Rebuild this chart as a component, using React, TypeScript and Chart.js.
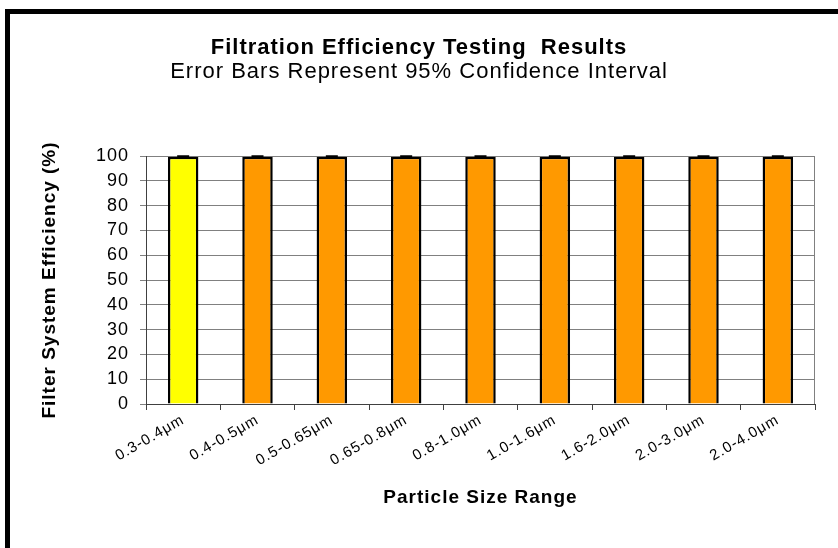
import React, { useEffect, useRef } from 'react';
import { Chart, registerables } from 'chart.js';

Chart.register(...registerables);

const categories = [
  '0.3-0.4μm',
  '0.4-0.5μm',
  '0.5-0.65μm',
  '0.65-0.8μm',
  '0.8-1.0μm',
  '1.0-1.6μm',
  '1.6-2.0μm',
  '2.0-3.0μm',
  '2.0-4.0μm',
];
const efficiency = [99.7, 99.7, 99.7, 99.7, 99.7, 99.7, 99.7, 99.7, 99.7];
const ci95 = [0.2, 0.2, 0.2, 0.2, 0.2, 0.2, 0.2, 0.2, 0.2];
const barColors = ['#FFFF00', '#FF9900', '#FF9900', '#FF9900', '#FF9900', '#FF9900', '#FF9900', '#FF9900', '#FF9900'];
const yMin = 0;
const yMax = 100;
const yStep = 10;

const titleText = 'Filtration Efficiency Testing  Results';
const subtitleText = 'Error Bars Represent 95% Confidence Interval';
const yAxisTitle = 'Filter System Efficiency (%)';
const xAxisTitle = 'Particle Size Range';

const FONT = '"Liberation Sans", Arial, Helvetica, sans-serif';

export default function App() {
  const ref = useRef<HTMLCanvasElement>(null);

  useEffect(() => {
    document.body.style.margin = '0';
    const canvas = ref.current;
    if (!canvas) return;

    const spacing = {
      id: 'spacing',
      beforeUpdate(c: any) {
        c.ctx.letterSpacing = '1px';
      },
      beforeDraw(c: any) {
        c.ctx.letterSpacing = '1px';
      },
    };

    const frame = {
      id: 'frame',
      beforeDraw(c: any) {
        const ctx = c.ctx;
        ctx.save();
        ctx.fillStyle = '#FFFFFF';
        ctx.fillRect(0, 0, c.width, c.height);
        ctx.strokeStyle = '#000000';
        ctx.lineWidth = 5;
        ctx.strokeRect(7.5, 11.5, c.width + 40, c.height + 40);
        ctx.restore();
      },
      afterDatasetsDraw(c: any) {
        const ctx = c.ctx;
        const a = c.chartArea;
        ctx.save();
        ctx.strokeStyle = '#808080';
        ctx.lineWidth = 1;
        ctx.beginPath();
        ctx.moveTo(Math.round(a.right) - 0.5, a.top);
        ctx.lineTo(Math.round(a.right) - 0.5, a.bottom);
        ctx.stroke();
        ctx.restore();
      },
    };

    const errorBars = {
      id: 'errorBars',
      afterDatasetsDraw(c: any) {
        const ctx = c.ctx;
        const meta = c.getDatasetMeta(0);
        const ys = c.scales.y;
        ctx.save();
        ctx.strokeStyle = '#000000';
        ctx.lineWidth = 2;
        meta.data.forEach((el: any, i: number) => {
          const v = efficiency[i];
          const e = ci95[i];
          const yHi = ys.getPixelForValue(Math.min(v + e, yMax + 0.5));
          const yLo = ys.getPixelForValue(v - e);
          const x = el.x;
          const half = 6;
          ctx.beginPath();
          ctx.moveTo(x, yHi);
          ctx.lineTo(x, yLo);
          ctx.moveTo(x - half, yHi);
          ctx.lineTo(x + half, yHi);
          ctx.moveTo(x - half, yLo);
          ctx.lineTo(x + half, yLo);
          ctx.stroke();
        });
        ctx.restore();
      },
    };

    const chart = new Chart(canvas, {
      type: 'bar',
      data: {
        labels: categories,
        datasets: [
          {
            data: efficiency,
            backgroundColor: barColors,
            borderColor: '#000000',
            borderWidth: 2.5,
            barPercentage: 0.41,
            categoryPercentage: 1,
          },
        ],
      },
      options: {
        responsive: false,
        animation: false,
        devicePixelRatio: 1,
        color: '#000000',
        layout: { padding: { left: 23, right: 23, top: 0, bottom: 40 } },
        plugins: {
          legend: { display: false },
          tooltip: { enabled: false },
          title: {
            display: true,
            text: titleText,
            color: '#000000',
            font: { family: FONT, size: 22, weight: 'bold', lineHeight: 1 },
            padding: { top: 37, bottom: 0 },
          },
          subtitle: {
            display: true,
            text: subtitleText,
            color: '#000000',
            font: { family: FONT, size: 22, weight: 'normal', lineHeight: 1 },
            padding: { top: 2, bottom: 73 },
          },
        },
        scales: {
          x: {
            afterFit(scale: any) {
              scale.height = 104;
            },
            grid: {
              display: true,
              drawOnChartArea: false,
              drawTicks: true,
              tickLength: 6,
              color: '#404040',
              offset: true,
            },
            border: { display: true, color: '#404040', width: 1 },
            ticks: {
              color: '#000000',
              font: { family: FONT, size: 15 },
              minRotation: 30,
              maxRotation: 30,
              padding: 1,
              autoSkip: false,
            },
            title: {
              display: true,
              text: xAxisTitle,
              color: '#000000',
              font: { family: FONT, size: 19, weight: 'bold', lineHeight: 1 },
              padding: { top: 0, bottom: 1 },
            },
          },
          y: {
            min: yMin,
            max: yMax,
            afterFit(scale: any) {
              scale.width = 123;
            },
            grid: {
              color: '#808080',
              drawTicks: true,
              tickLength: 6,
            },
            border: { display: true, color: '#404040', width: 1 },
            ticks: {
              stepSize: yStep,
              color: '#000000',
              font: { family: FONT, size: 18 },
              padding: 11,
            },
            title: {
              display: true,
              text: yAxisTitle,
              color: '#000000',
              font: { family: FONT, size: 19, weight: 'bold', lineHeight: 1 },
              padding: { top: 17.5, bottom: 0 },
            },
          },
        },
      },
      plugins: [spacing, frame, errorBars],
    } as any);

    return () => {
      chart.destroy();
    };
  }, []);

  return <canvas ref={ref} width={838} height={548} style={{ display: 'block' }} />;
}
